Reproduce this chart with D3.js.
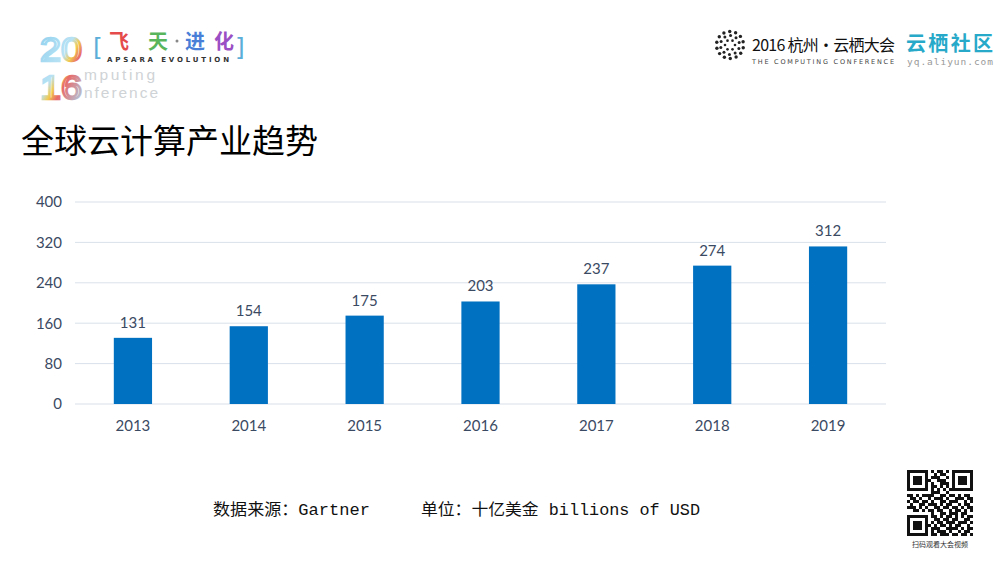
<!DOCTYPE html>
<html><head><meta charset="utf-8">
<script src="https://cdn.jsdelivr.net/npm/d3@7"></script>
<style>body{margin:0;background:#fff}svg{display:block}</style>
</head><body>
<svg id="c" width="1000" height="563"></svg>
<script>
const years = ["2013","2014","2015","2016","2017","2018","2019"];
const values = [131,154,175,203,237,274,312];
const yTicks = [0,80,160,240,320,400];
const title = "全球云计算产业趋势";
const sourceText = "数据来源：Gartner";
const unitText = "单位：十亿美金 billions of USD";

const svg = d3.select("#c");
const x = d3.scaleBand().domain(years).range([75,886]).paddingInner(0.67).paddingOuter(0.335);
const y = d3.scaleLinear().domain([0,400]).range([404,202]);
const txt = "#3b4a63";
const lab = "Lato, 'Noto Sans', sans-serif";

// gridlines
svg.append("g").selectAll("line").data(yTicks).join("line")
  .attr("x1",75).attr("x2",886).attr("y1",d=>y(d)).attr("y2",d=>y(d))
  .attr("stroke","#d9e1ea").attr("stroke-width",1);

// y axis labels
const ya = svg.append("g").attr("transform","translate(62,0)")
  .call(d3.axisLeft(y).tickValues(yTicks).tickSize(0).tickPadding(0));
ya.select(".domain").remove();
ya.selectAll("text").attr("font-family",lab).attr("font-size",15).attr("fill",txt);

// x axis labels
const xa = svg.append("g").attr("transform","translate(0,417)")
  .call(d3.axisBottom(x).tickSize(0).tickPadding(0));
xa.select(".domain").remove();
xa.selectAll("text").attr("font-family",lab).attr("font-size",15).attr("fill",txt).attr("dy","0.9em");

// bars
svg.append("g").selectAll("rect").data(years).join("rect")
  .attr("x",d=>x(d)).attr("width",x.bandwidth())
  .attr("y",(d,i)=>y(values[i])).attr("height",(d,i)=>y(0)-y(values[i]))
  .attr("fill","#0070c0");

// value labels
svg.append("g").selectAll("text").data(years).join("text")
  .attr("x",d=>x(d)+x.bandwidth()/2).attr("y",(d,i)=>y(values[i])-10)
  .attr("text-anchor","middle").attr("font-family",lab).attr("font-size",15).attr("fill",txt)
  .text((d,i)=>values[i]);

// title
svg.append("text").attr("x",21).attr("y",153).attr("font-family","'Noto Sans CJK SC'")
  .attr("font-size",33).attr("fill","#000").text(title);

// footer
const mono = "'Liberation Mono','Noto Sans CJK SC',monospace";
svg.append("text").attr("x",213).attr("y",515).attr("font-family",mono).attr("font-size",16)
  .attr("fill","#111").attr("textLength",157).attr("lengthAdjust","spacingAndGlyphs").text(sourceText);
svg.append("text").attr("x",421).attr("y",515).attr("font-family",mono).attr("font-size",16)
  .attr("fill","#111").attr("textLength",279).attr("lengthAdjust","spacingAndGlyphs").text(unitText);

// ---- top-left logo ----
const tl = svg.append("g");
const defs = svg.append("defs");
const gr = defs.append("linearGradient").attr("id","lg").attr("x1","0").attr("x2","1").attr("y1","0").attr("y2","1");
[["0%","#8fd0ee"],["45%","#b8e2f4"],["55%","#f2c94c"],["65%","#e86a6a"],["100%","#a8d8f0"]].forEach(s=>
  gr.append("stop").attr("offset",s[0]).attr("stop-color",s[1]));
const yr = tl.append("text").attr("font-family","'Liberation Sans'").attr("font-size",34)
  .attr("fill","none").attr("stroke","url(#lg)").attr("stroke-width",2.4);
yr.append("tspan").attr("x",40).attr("y",60.5).attr("textLength",42).attr("lengthAdjust","spacingAndGlyphs").text("20");
yr.append("tspan").attr("x",40).attr("y",99).attr("textLength",42).attr("lengthAdjust","spacingAndGlyphs").text("16");
const cc = tl.append("text").attr("font-family","'Liberation Sans'").attr("font-size",15.5).attr("fill","#cfd3d6");
cc.append("tspan").attr("x",84).attr("y",80).attr("textLength",71).text("mputing");
cc.append("tspan").attr("x",84).attr("y",98).attr("textLength",74).text("nference");
tl.append("text").attr("x",93).attr("y",56).attr("font-family","'DejaVu Sans'").attr("font-size",25)
  .attr("fill","#5aaed8").text("[");
tl.append("text").attr("x",235).attr("y",56).attr("font-family","'DejaVu Sans'").attr("font-size",25)
  .attr("fill","#5aaed8").text("]");
const chars = [["飞",109,"#e54b4b"],["天",148,"#58b55c"],["进",185,"#4a7fd8"],["化",214,"#9b4fc4"]];
tl.selectAll("text.ch").data(chars).join("text").attr("class","ch")
  .attr("x",d=>d[1]).attr("y",49).attr("font-family","'Noto Sans CJK SC'").attr("font-weight","bold")
  .attr("font-size",20).attr("fill",d=>d[2]).text(d=>d[0]);
tl.append("circle").attr("cx",177).attr("cy",41).attr("r",1.5).attr("fill","#888");
tl.append("text").attr("x",107).attr("y",61.5).attr("font-family","'DejaVu Sans'").attr("font-size",7)
  .attr("font-weight","bold").attr("fill","#333").attr("textLength",122).text("APSARA EVOLUTION");

// ---- top-right logo ----
const tr = svg.append("g");
const dots = [];
for (let k=0;k<3;k++){ const r=[5,9.5,13.5][k], n=[6,10,14][k];
  for(let i=0;i<n;i++){ const a=i/n*2*Math.PI+k; dots.push([730+r*Math.cos(a),45+r*Math.sin(a),[1.3,1.5,1.7][k]]);} }
tr.selectAll("circle").data(dots).join("circle").attr("cx",d=>d[0]).attr("cy",d=>d[1]).attr("r",d=>d[2]).attr("fill","#222");
tr.append("text").attr("x",752).attr("y",51).attr("font-family","'Noto Sans CJK SC'").attr("font-size",16)
  .attr("fill","#111").attr("textLength",143).text("2016 杭州·云栖大会");
tr.append("text").attr("x",752).attr("y",64).attr("font-family","'DejaVu Sans'").attr("font-size",6.5)
  .attr("fill","#444").attr("textLength",142).text("THE COMPUTING CONFERENCE");
tr.append("text").attr("x",906).attr("y",51).attr("font-family","'Noto Sans CJK SC'").attr("font-size",20)
  .attr("font-weight","bold").attr("fill","#27a9c9").attr("textLength",87).text("云栖社区");
tr.append("text").attr("x",907).attr("y",65).attr("font-family","'DejaVu Sans Mono'").attr("font-size",9.5)
  .attr("fill","#999").attr("textLength",86).text("yq.aliyun.com");

// ---- QR code ----
const qrRows = [
"1111111010110101111111",
"1000001001011001000001",
"1011101011100101011101",
"1011101100111001011101",
"1011101010011101011101",
"1000001011010101000001",
"1111111010101011111111",
"0000000011100100000000",
"1101011110011011010110",
"0110100101110100111011",
"1011011010011011100101",
"0100110111010110010110",
"1110101001101101101011",
"0011010110110010110101",
"0000000010011011101100",
"1111111011010110101011",
"1000001001101101100110",
"1011101010110111011101",
"1011101101011010110010",
"1011101011100111101011",
"1000001010111010010110",
"1111111011011101101101"];
const qx = 907, qy = 470, qs = 3;
const cells=[];
qrRows.forEach((r,i)=>r.split("").forEach((c,j)=>{ if(c==="1") cells.push([j,i]); }));
svg.append("g").selectAll("rect").data(cells).join("rect")
  .attr("x",d=>qx+d[0]*qs).attr("y",d=>qy+d[1]*qs).attr("width",qs).attr("height",qs).attr("fill","#111");
svg.append("text").attr("x",940).attr("y",547).attr("text-anchor","middle").attr("font-family","'Noto Sans CJK SC'")
  .attr("font-size",7).attr("fill","#333").text("扫码观看大会视频");
</script>
</body></html>
